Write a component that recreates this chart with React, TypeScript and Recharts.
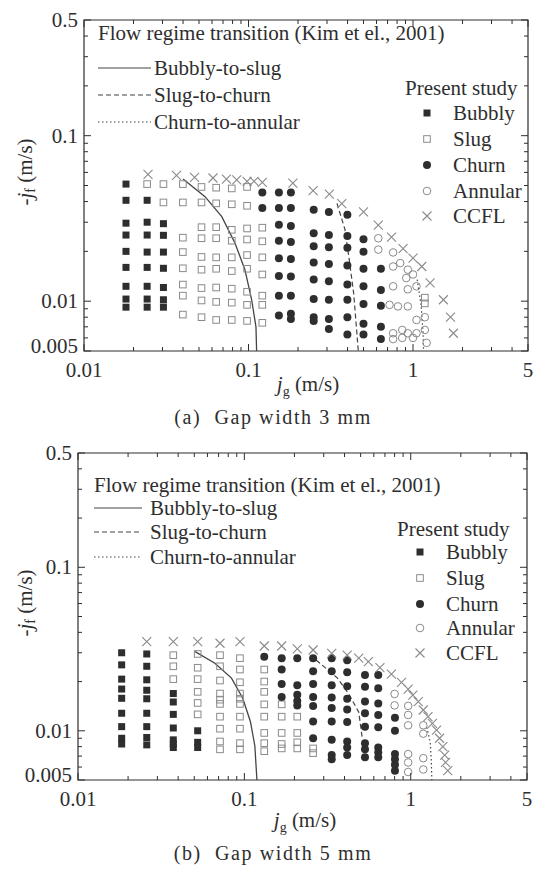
import React from "react";
import { ScatterChart, Scatter, XAxis, YAxis, ReferenceArea } from "recharts";

const FONT = '"Liberation Serif", "Times New Roman", Times, serif';
const INK = "#2e2e2e";
const GREY = "#8a8a8a";

// axis ticks (log axes, minor ticks unlabelled)
const xMajor = [0.01, 0.1, 1, 5];
const xMinor = [0.02, 0.03, 0.04, 0.05, 0.06, 0.07, 0.08, 0.09, 0.2, 0.3, 0.4, 0.5, 0.6, 0.7, 0.8, 0.9, 2, 3, 4];
const yMajor = [0.005, 0.01, 0.1, 0.5];
const yMinor = [0.006, 0.007, 0.008, 0.009, 0.02, 0.03, 0.04, 0.05, 0.06, 0.07, 0.08, 0.09, 0.2, 0.3, 0.4];

// ---- (a) gap width 3 mm : [jg, [-jf ...]] columns
const bubblyA: [number, number[]][] = [
  [0.018, [0.051, 0.0407, 0.0296, 0.0251, 0.02, 0.016, 0.0123, 0.0103, 0.0092]],
  [0.0242, [0.0407, 0.03, 0.0251, 0.0198, 0.016, 0.0123, 0.0103, 0.0092]],
  [0.0304, [0.0294, 0.025, 0.0198, 0.0158, 0.0121, 0.0102, 0.0092]],
];
const slugA: [number, number[]][] = [
  [0.0242, [0.051]],
  [0.0304, [0.051, 0.0395]],
  [0.0399, [0.051, 0.0395, 0.0242, 0.0198, 0.0158, 0.0126, 0.0108, 0.0083]],
  [0.0518, [0.049, 0.0395, 0.028, 0.024, 0.0185, 0.0155, 0.012, 0.0101, 0.008]],
  [0.0636, [0.0485, 0.039, 0.028, 0.024, 0.0184, 0.0157, 0.0121, 0.0099, 0.0077]],
  [0.0791, [0.048, 0.0385, 0.027, 0.0232, 0.0184, 0.0152, 0.0119, 0.0098, 0.0077]],
  [0.098, [0.049, 0.0377, 0.0275, 0.0236, 0.019, 0.0157, 0.0114, 0.0095, 0.0076]],
  [0.1213, [0.0278, 0.023, 0.0184, 0.0145, 0.0108, 0.0095, 0.0074]],
  [1.18, [0.0105, 0.0097]],
];
const churnA: [number, number[]][] = [
  [0.1213, [0.0453, 0.0366]],
  [0.153, [0.0453, 0.0366, 0.029, 0.0232, 0.0182, 0.0142, 0.0108, 0.0082]],
  [0.181, [0.0453, 0.0366, 0.0285, 0.0228, 0.018, 0.0141, 0.0108, 0.0084, 0.0078]],
  [0.249, [0.0357, 0.0257, 0.0215, 0.0171, 0.0135, 0.0103, 0.008, 0.0076]],
  [0.308, [0.0346, 0.0251, 0.0212, 0.0168, 0.0132, 0.0102, 0.0078, 0.0068]],
  [0.399, [0.0333, 0.0248, 0.021, 0.0164, 0.0126, 0.0102, 0.008, 0.0063]],
  [0.5, [0.0237, 0.0199, 0.0157, 0.0123, 0.0096, 0.0073, 0.0063]],
  [0.638, [0.0157, 0.0117, 0.0094, 0.007, 0.0059]],
];
const annularA = [
  [0.615, 0.024], [0.615, 0.0205], [0.757, 0.0197], [0.836, 0.017], [0.757, 0.0162],
  [0.93, 0.0155], [0.91, 0.0138], [1.0, 0.0145], [0.757, 0.0123], [0.93, 0.0118],
  [1.05, 0.0123], [0.72, 0.0095], [0.81, 0.0093], [0.93, 0.0093], [1.05, 0.0077],
  [1.18, 0.008], [0.757, 0.0064], [0.86, 0.0067], [0.93, 0.0064], [1.05, 0.0064],
  [1.18, 0.0067], [1.21, 0.0056], [0.757, 0.0059], [0.86, 0.006], [1.0, 0.006],
];
const ccflA = [
  [0.0245, 0.0583], [0.0365, 0.0575], [0.047, 0.056], [0.0608, 0.0555], [0.0734, 0.0547],
  [0.0848, 0.054], [0.098, 0.053], [0.108, 0.053], [0.1213, 0.0523], [0.186, 0.0517],
  [0.247, 0.0465], [0.31, 0.0443], [0.369, 0.0389], [0.5, 0.0346], [0.615, 0.0288],
  [0.74, 0.0244], [0.87, 0.0208], [1.0, 0.0182], [1.13, 0.0162], [1.27, 0.0129],
  [1.53, 0.0102], [1.69, 0.008], [1.76, 0.0064],
];
const solidA = [[0.04, 0.0547], [0.0544, 0.0428], [0.0688, 0.0324], [0.0828, 0.0224], [0.0951, 0.0155], [0.1045, 0.0102], [0.111, 0.007], [0.112, 0.005]];
const dashedA = [[0.345, 0.039], [0.385, 0.0273], [0.41, 0.0177], [0.436, 0.0111], [0.465, 0.005]];
const dottedA = [[1.06, 0.0135], [1.12, 0.0095], [1.15, 0.0065], [1.16, 0.005]];

// ---- (b) gap width 5 mm
const bubblyB: [number, number[]][] = [
  [0.0183, [0.03, 0.0253, 0.0207, 0.018, 0.0158, 0.0128, 0.0106, 0.009, 0.0083]],
  [0.0259, [0.0295, 0.0248, 0.0205, 0.0177, 0.0157, 0.0128, 0.0106, 0.0091, 0.0082]],
  [0.0374, [0.0169, 0.015, 0.0126, 0.0104, 0.0088, 0.0083, 0.0079]],
  [0.0524, [0.01, 0.0085, 0.0079]],
];
const slugB: [number, number[]][] = [
  [0.0374, [0.029, 0.0248, 0.0207]],
  [0.0524, [0.0295, 0.0243, 0.0207, 0.0173, 0.0148, 0.0126]],
  [0.0714, [0.029, 0.0248, 0.0203, 0.0169, 0.0155, 0.0146, 0.0122, 0.0103, 0.0086, 0.0077]],
  [0.0941, [0.0278, 0.0237, 0.0198, 0.0169, 0.0157, 0.0146, 0.0122, 0.0103, 0.0084, 0.0077]],
  [0.1317, [0.0237, 0.02, 0.0173, 0.0145, 0.0122, 0.0097, 0.0084, 0.0075]],
  [0.1676, [0.0145, 0.0122, 0.0097, 0.0083, 0.0078]],
  [0.208, [0.0122, 0.0097, 0.0085, 0.0078]],
  [0.259, [0.0078, 0.0073]],
];
const churnB: [number, number[]][] = [
  [0.1317, [0.0284]],
  [0.1676, [0.0278, 0.0237, 0.0193, 0.0161]],
  [0.208, [0.0278, 0.019, 0.0166, 0.0152, 0.0143]],
  [0.259, [0.0278, 0.0231, 0.0193, 0.0161, 0.0142, 0.0114, 0.009]],
  [0.335, [0.0278, 0.0231, 0.019, 0.016, 0.0138, 0.0114, 0.0088, 0.0071, 0.0067]],
  [0.415, [0.027, 0.0228, 0.0187, 0.0157, 0.0135, 0.0113, 0.0086, 0.0079, 0.0071]],
  [0.531, [0.0219, 0.0186, 0.0151, 0.0128, 0.0106, 0.0084, 0.0077, 0.0069]],
  [0.638, [0.0219, 0.0182, 0.0147, 0.0125, 0.0105, 0.0079, 0.0074, 0.0069]],
  [0.804, [0.012, 0.01, 0.0072, 0.0067, 0.0062, 0.0057]],
];
const annularB = [
  [0.8, 0.0168], [0.8, 0.0143], [0.965, 0.0142], [0.965, 0.0125], [0.965, 0.0108],
  [1.19, 0.0108], [1.19, 0.0096], [0.965, 0.0072], [1.19, 0.0068], [0.965, 0.0064],
  [1.19, 0.0058], [0.965, 0.0056],
];
const ccflB = [
  [0.0259, 0.0351], [0.0374, 0.0351], [0.0524, 0.0351], [0.0714, 0.0343], [0.0941, 0.0351],
  [0.1317, 0.033], [0.1676, 0.033], [0.208, 0.0317], [0.259, 0.0312], [0.335, 0.0297],
  [0.415, 0.029], [0.487, 0.0278], [0.556, 0.0265], [0.653, 0.0243], [0.765, 0.0222],
  [0.88, 0.0198], [0.965, 0.018], [1.03, 0.0165], [1.11, 0.0151], [1.19, 0.0134],
  [1.27, 0.0122], [1.35, 0.0111], [1.43, 0.0101], [1.49, 0.009], [1.56, 0.008],
  [1.6, 0.0071], [1.62, 0.0064], [1.67, 0.0057],
];
const solidB = [[0.0506, 0.0305], [0.0665, 0.0259], [0.0837, 0.021], [0.0978, 0.0158], [0.1087, 0.0114], [0.1156, 0.0081], [0.119, 0.005]];
const dashedB = [[0.27, 0.0271], [0.363, 0.021], [0.427, 0.0166], [0.487, 0.013], [0.51, 0.0092]];
const dottedB = [[1.25, 0.0105], [1.31, 0.0085], [1.33, 0.0065], [1.34, 0.005]];

const cols = (c: [number, number[]][]) => c.flatMap(([x, ys]) => ys.map((y) => ({ x, y })));
const pts = (p: number[][]) => p.map(([x, y]) => ({ x, y }));

// marker glyphs
const bubblyMark = (cx: number, cy: number) => <rect x={cx - 3.5} y={cy - 3.5} width={7} height={7} fill={INK} />;
const slugMark = (cx: number, cy: number) => (
  <rect x={cx - 3.3} y={cy - 3.3} width={6.6} height={6.6} fill="none" stroke={GREY} strokeWidth={1} />
);
const churnMark = (cx: number, cy: number) => <circle cx={cx} cy={cy} r={4} fill={INK} />;
const annularMark = (cx: number, cy: number) => <circle cx={cx} cy={cy} r={3.8} fill="none" stroke={GREY} strokeWidth={1} />;
const ccflMark = (cx: number, cy: number) => (
  <path d={`M${cx - 4.5},${cy - 4.5}L${cx + 4.5},${cy + 4.5}M${cx - 4.5},${cy + 4.5}L${cx + 4.5},${cy - 4.5}`} stroke={GREY} strokeWidth={1.1} />
);
const shapeOf = (m: (cx: number, cy: number) => React.ReactElement) => (p: any) => m(p.cx, p.cy);
const noMark = () => <g />;

type PanelProps = {
  top: number;
  height: number;
  margin: { top: number; right: number; bottom: number; left: number };
  bubbly: [number, number[]][];
  slug: [number, number[]][];
  churn: [number, number[]][];
  annular: number[][];
  ccfl: number[][];
  solid: number[][];
  dashed: number[][];
  dotted: number[][];
};

function Panel(props: PanelProps) {
  const { margin, height } = props;
  // axes take 1px (XAxis height / YAxis width)
  const plotW = 534 - margin.left - 1 - margin.right;
  const plotH = height - margin.top - margin.bottom - 1;

  const xTick = (p: any) => {
    const v = p.payload.value;
    const major = xMajor.includes(v);
    const len = major ? 7 : 4;
    return (
      <g>
        <line x1={p.x} y1={p.y} x2={p.x} y2={p.y - len} stroke={INK} strokeWidth={1} />
        <line x1={p.x} y1={p.y - plotH} x2={p.x} y2={p.y - plotH + len} stroke={INK} strokeWidth={1} />
        {major && (
          <text x={p.x} y={p.y + 26} textAnchor="middle" fontFamily={FONT} fontSize={21} fill={INK}>
            {String(v)}
          </text>
        )}
      </g>
    );
  };
  const yTick = (p: any) => {
    const v = p.payload.value;
    const major = yMajor.includes(v);
    const len = major ? 7 : 4;
    // lowest label sits a little higher so it clears the x label below it
    const dy = v === yMajor[0] ? 2 : 7;
    return (
      <g>
        <line x1={p.x} y1={p.y} x2={p.x + len} y2={p.y} stroke={INK} strokeWidth={1} />
        <line x1={p.x + plotW} y1={p.y} x2={p.x + plotW - len} y2={p.y} stroke={INK} strokeWidth={1} />
        {major && (
          <text x={p.x - 6} y={p.y + dy} textAnchor="end" fontFamily={FONT} fontSize={21} fill={INK}>
            {String(v)}
          </text>
        )}
      </g>
    );
  };

  return (
    <div style={{ position: "absolute", left: 0, top: props.top }}>
      <ScatterChart width={534} height={height} margin={margin}>
        <XAxis
          dataKey="x"
          type="number"
          scale="log"
          domain={[0.01, 5]}
          allowDataOverflow
          ticks={[...xMajor, ...xMinor]}
          interval={0}
          height={1}
          tickSize={0}
          tickMargin={0}
          axisLine={false}
          tickLine={false}
          tick={xTick}
        />
        <YAxis
          dataKey="y"
          type="number"
          scale="log"
          domain={[0.005, 0.5]}
          allowDataOverflow
          ticks={[...yMajor, ...yMinor]}
          interval={0}
          width={1}
          tickSize={0}
          tickMargin={0}
          axisLine={false}
          tickLine={false}
          tick={yTick}
        />
        <ReferenceArea x1={0.01} x2={5} y1={0.005} y2={0.5} fill="none" fillOpacity={0} stroke={INK} strokeWidth={1.2} ifOverflow="visible" />
        <Scatter data={pts(props.solid)} fill={INK} line={{ stroke: "#444", strokeWidth: 1.3 }} shape={noMark} isAnimationActive={false} />
        <Scatter data={pts(props.dashed)} fill={INK} line={{ stroke: "#444", strokeWidth: 1.2, strokeDasharray: "5 3" }} shape={noMark} isAnimationActive={false} />
        <Scatter data={pts(props.dotted)} fill={INK} line={{ stroke: "#444", strokeWidth: 1.2, strokeDasharray: "1.5 2.5" }} shape={noMark} isAnimationActive={false} />
        <Scatter data={cols(props.bubbly)} fill={INK} shape={shapeOf(bubblyMark)} isAnimationActive={false} />
        <Scatter data={cols(props.slug)} fill={GREY} shape={shapeOf(slugMark)} isAnimationActive={false} />
        <Scatter data={cols(props.churn)} fill={INK} shape={shapeOf(churnMark)} isAnimationActive={false} />
        <Scatter data={pts(props.annular)} fill={GREY} shape={shapeOf(annularMark)} isAnimationActive={false} />
        <Scatter data={pts(props.ccfl)} fill={GREY} shape={shapeOf(ccflMark)} isAnimationActive={false} />
      </ScatterChart>
    </div>
  );
}

const txt = { fontFamily: FONT, fontSize: 21, fill: INK } as const;

function Legends({ oy, left, lineEnd, textX, rows, psX, psY, mkX, mkY, ttlY }: any) {
  const marks = [bubblyMark, slugMark, churnMark, annularMark, ccflMark];
  const names = ["Bubbly", "Slug", "Churn", "Annular", "CCFL"];
  const lineNames = ["Bubbly-to-slug", "Slug-to-churn", "Churn-to-annular"];
  const dashes = [undefined, "5 3", "1.5 2.5"];
  return (
    <g>
      <text x={left} y={oy + ttlY} {...txt}>Flow regime transition (Kim et el., 2001)</text>
      {lineNames.map((n, i) => (
        <g key={n}>
          <line x1={left} x2={lineEnd} y1={oy + rows[i]} y2={oy + rows[i]} stroke="#444" strokeWidth={1.2} strokeDasharray={dashes[i]} />
          <text x={textX} y={oy + rows[i] + 7} {...txt}>{n}</text>
        </g>
      ))}
      <text x={psX} y={oy + psY + 7} {...txt}>Present study</text>
      {names.map((n, i) => (
        <g key={n}>
          {marks[i](mkX, oy + mkY[i])}
          <text x={mkX + 26} y={oy + mkY[i] + 7} {...txt}>{n}</text>
        </g>
      ))}
    </g>
  );
}

function AxisTitles({ yMid, xMid, xBase, capBase, cap }: any) {
  return (
    <g>
      <text x={25} y={yMid} transform={`rotate(-90 25 ${yMid})`} textAnchor="middle" dominantBaseline="central" {...txt}>
        -<tspan fontStyle="italic">j</tspan>
        <tspan fontSize={14} dy={5}>f</tspan>
        <tspan dy={-5}> (m/s)</tspan>
      </text>
      <text x={xMid} y={xBase} textAnchor="middle" {...txt}>
        <tspan fontStyle="italic">j</tspan>
        <tspan fontSize={14} dy={5}>g</tspan>
        <tspan dy={-5}> (m/s)</tspan>
      </text>
      <text x={273} y={capBase} textAnchor="middle" {...txt} fontSize={20} letterSpacing={1.6} style={{ whiteSpace: "pre" }}>
        {cap}
      </text>
    </g>
  );
}

export default function App() {
  return (
    <div style={{ position: "absolute", left: 0, top: 0, width: 534, height: 869, background: "#fff" }}>
      <Panel
        top={0}
        height={430}
        margin={{ top: 20, right: 6, bottom: 78, left: 83 }}
        bubbly={bubblyA}
        slug={slugA}
        churn={churnA}
        annular={annularA}
        ccfl={ccflA}
        solid={solidA}
        dashed={dashedA}
        dotted={dottedA}
      />
      <Panel
        top={440}
        height={429}
        margin={{ top: 13, right: 7, bottom: 88, left: 77 }}
        bubbly={bubblyB}
        slug={slugB}
        churn={churnB}
        annular={annularB}
        ccfl={ccflB}
        solid={solidB}
        dashed={dashedB}
        dotted={dottedB}
      />
      <svg width={534} height={869} style={{ position: "absolute", left: 0, top: 0, pointerEvents: "none" }}>
        <Legends oy={0} left={98} lineEnd={151} textX={154} ttlY={40} rows={[68, 95, 122]} psX={405} psY={88} mkX={427} mkY={[113, 139, 165, 191, 216]} />
        <Legends oy={0} left={94} lineEnd={142} textX={150} ttlY={492} rows={[508, 532, 557]} psX={397} psY={529} mkX={420} mkY={[552, 578, 604, 628, 653]} />
        <AxisTitles yMid={172} xMid={308} xBase={391} capBase={424} cap="(a)  Gap width 3 mm" />
        <AxisTitles yMid={603} xMid={305} xBase={827} capBase={860} cap="(b)  Gap width 5 mm" />
      </svg>
    </div>
  );
}
